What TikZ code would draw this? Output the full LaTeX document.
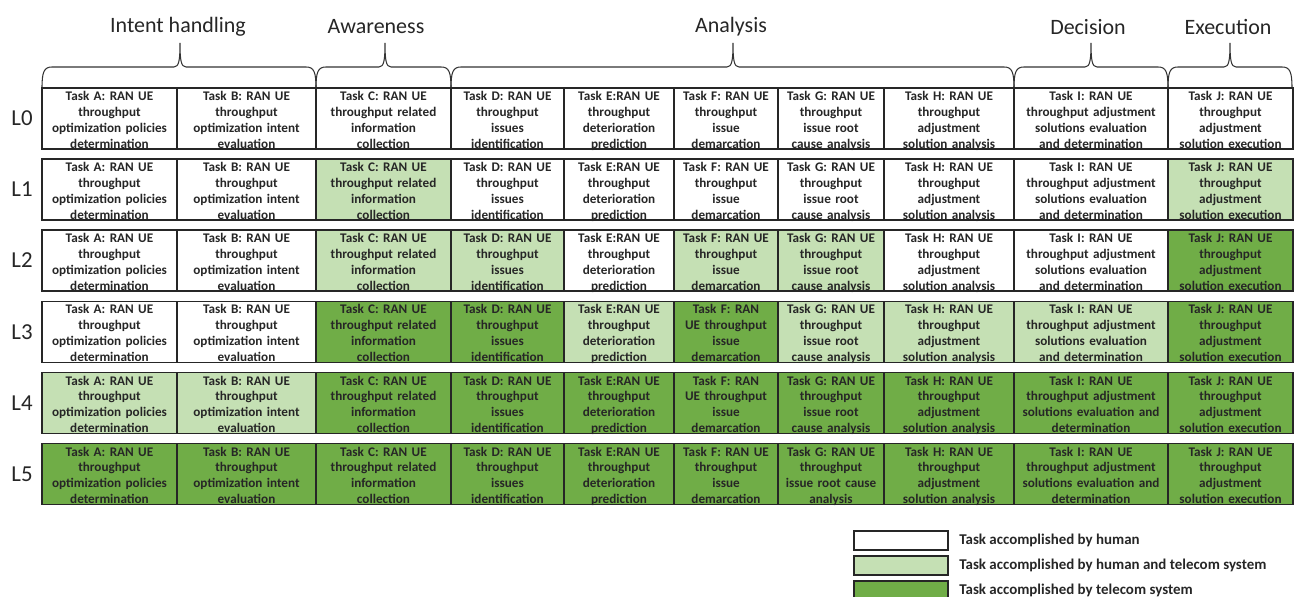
\documentclass[tikz,border=0pt]{standalone}
\usepackage{fontspec}
\setmainfont{Carlito}
\definecolor{lightgrn}{HTML}{C5E0B4}
\definecolor{darkgrn}{HTML}{70AD47}

\newcommand{\txtA}{Task A: RAN UE\\throughput\\optimization policies\\determination}
\newcommand{\txtB}{Task B: RAN UE\\throughput\\optimization intent\\evaluation}
\newcommand{\txtC}{Task C: RAN UE\\throughput related\\information\\collection}
\newcommand{\txtD}{Task D: RAN UE\\throughput\\issues\\identification}
\newcommand{\txtE}{Task E:RAN UE\\throughput\\deterioration\\prediction}
\newcommand{\txtF}{Task F: RAN UE\\throughput\\issue\\demarcation}
\newcommand{\txtG}{Task G: RAN UE\\throughput\\issue root\\cause analysis}
\newcommand{\txtH}{Task H: RAN UE\\throughput\\adjustment\\solution analysis}
\newcommand{\txtI}{Task I: RAN UE\\throughput adjustment\\solutions evaluation\\and determination}
\newcommand{\txtJ}{Task J: RAN UE\\throughput\\adjustment\\solution execution}

\begin{document}
\begin{tikzpicture}[x=0.02cm, y=-0.02cm,
    cell/.style = {draw=black!85, line width=0.6pt, inner sep=0pt, minimum height=1.22cm,
                   text height=0.25cm, text depth=0.97cm, align=center, text=black!85,
                   font=\bfseries\fontsize{7.5}{9.1}\selectfont},
    human/.style = {fill=white},
    both/.style = {fill=lightgrn},
    system/.style = {fill=darkgrn},
    colA/.style = {minimum width=2.70cm, text width=2.62cm},
    colB/.style = {minimum width=2.78cm, text width=2.70cm},
    colC/.style = {minimum width=2.70cm, text width=2.62cm},
    colD/.style = {minimum width=2.26cm, text width=2.18cm},
    colE/.style = {minimum width=2.20cm, text width=2.12cm},
    colF/.style = {minimum width=2.08cm, text width=2.00cm},
    colG/.style = {minimum width=2.12cm, text width=2.04cm},
    colH/.style = {minimum width=2.60cm, text width=2.52cm},
    colI/.style = {minimum width=3.08cm, text width=3.00cm},
    colJ/.style = {minimum width=2.50cm, text width=2.42cm},
    level/.style = {font=\fontsize{13}{15}\selectfont, text=black!85},
    phase/.style = {font=\fontsize{12.5}{15}\selectfont, text=black!85},
    brace/.style = {draw=black!80, line width=0.6pt},
    keybox/.style = {draw=black!85, line width=0.6pt, inner sep=0pt, minimum width=1.88cm, minimum height=0.38cm},
    keytext/.style = {anchor=west, inner sep=0pt, text=black!85, font=\bfseries\fontsize{8.5}{10}\selectfont}]

    \useasboundingbox (0,0) rectangle (1295,597);

    % phases
    \node[phase] (intent)   at (178,27)  {Intent handling};
    \node[phase] (aware)    at (376,27)  {Awareness};
    \node[phase] (analysis) at (731,27)  {Analysis};
    \node[phase] (decision) at (1088,27) {Decision};
    \node[phase] (exec)     at (1228,27) {Execution};

    % braces
    \draw[brace] (42,88) .. controls (42,72) and (44,67) .. (52,67) -- (174,67)
        .. controls (179,67) and (180,60) .. (180,43) .. controls (180,60) and (181,67) .. (186,67)
        -- (306,67) .. controls (314,67) and (316,72) .. (316,88);
    \draw[brace] (316,88) .. controls (316,72) and (318,67) .. (326,67) -- (379,67)
        .. controls (384,67) and (385,60) .. (385,43) .. controls (385,60) and (386,67) .. (391,67)
        -- (441,67) .. controls (449,67) and (451,72) .. (451,88);
    \draw[brace] (451,88) .. controls (451,72) and (453,67) .. (461,67) -- (727,67)
        .. controls (732,67) and (733,60) .. (733,43) .. controls (733,60) and (734,67) .. (739,67)
        -- (1004,67) .. controls (1012,67) and (1014,72) .. (1014,88);
    \draw[brace] (1014,88) .. controls (1014,72) and (1016,67) .. (1024,67) -- (1085,67)
        .. controls (1090,67) and (1091,60) .. (1091,43) .. controls (1091,60) and (1092,67) .. (1097,67)
        -- (1158,67) .. controls (1166,67) and (1168,72) .. (1168,88);
    \draw[brace] (1168,88) .. controls (1168,72) and (1170,67) .. (1178,67) -- (1224,67)
        .. controls (1229,67) and (1230,60) .. (1230,43) .. controls (1230,60) and (1231,67) .. (1236,67)
        -- (1282,67) .. controls (1290,67) and (1292,72) .. (1292,88);

    % L0
    \node[level] (l0) at (22,118.5) {L0};
    \node[cell,colA,human] (a0) at (109.5,118.5) {\txtA};
    \node[cell,colB,human] (b0) at (246.5,118.5) {\txtB};
    \node[cell,colC,human] (c0) at (383.5,118.5) {\txtC};
    \node[cell,colD,human] (d0) at (507.5,118.5) {\txtD};
    \node[cell,colE,human] (e0) at (619,118.5)   {\txtE};
    \node[cell,colF,human] (f0) at (726,118.5)   {\txtF};
    \node[cell,colG,human] (g0) at (831,118.5)   {\txtG};
    \node[cell,colH,human] (h0) at (949,118.5)   {\txtH};
    \node[cell,colI,human] (i0) at (1091,118.5)  {\txtI};
    \node[cell,colJ,human] (j0) at (1230.5,118.5) {\txtJ};

    % L1
    \node[level] (l1) at (22,189.5) {L1};
    \node[cell,colA,human] (a1) at (109.5,189.5) {\txtA};
    \node[cell,colB,human] (b1) at (246.5,189.5) {\txtB};
    \node[cell,colC,both]  (c1) at (383.5,189.5) {\txtC};
    \node[cell,colD,human] (d1) at (507.5,189.5) {\txtD};
    \node[cell,colE,human] (e1) at (619,189.5)   {\txtE};
    \node[cell,colF,human] (f1) at (726,189.5)   {\txtF};
    \node[cell,colG,human] (g1) at (831,189.5)   {\txtG};
    \node[cell,colH,human] (h1) at (949,189.5)   {\txtH};
    \node[cell,colI,human] (i1) at (1091,189.5)  {\txtI};
    \node[cell,colJ,both]  (j1) at (1230.5,189.5) {\txtJ};

    % L2
    \node[level] (l2) at (22,260.5) {L2};
    \node[cell,colA,human]  (a2) at (109.5,260.5) {\txtA};
    \node[cell,colB,human]  (b2) at (246.5,260.5) {\txtB};
    \node[cell,colC,both]   (c2) at (383.5,260.5) {\txtC};
    \node[cell,colD,both]   (d2) at (507.5,260.5) {\txtD};
    \node[cell,colE,human]  (e2) at (619,260.5)   {\txtE};
    \node[cell,colF,both]   (f2) at (726,260.5)   {\txtF};
    \node[cell,colG,both]   (g2) at (831,260.5)   {\txtG};
    \node[cell,colH,human]  (h2) at (949,260.5)   {\txtH};
    \node[cell,colI,human]  (i2) at (1091,260.5)  {\txtI};
    \node[cell,colJ,system] (j2) at (1230.5,260.5) {\txtJ};

    % L3
    \node[level] (l3) at (22,332) {L3};
    \node[cell,colA,human]  (a3) at (109.5,332) {\txtA};
    \node[cell,colB,human]  (b3) at (246.5,332) {\txtB};
    \node[cell,colC,system] (c3) at (383.5,332) {\txtC};
    \node[cell,colD,system] (d3) at (507.5,332) {\txtD};
    \node[cell,colE,both]   (e3) at (619,332)   {\txtE};
    \node[cell,colF,system] (f3) at (726,332)   {Task F: RAN\\UE throughput\\issue\\demarcation};
    \node[cell,colG,both]   (g3) at (831,332)   {\txtG};
    \node[cell,colH,both]   (h3) at (949,332)   {\txtH};
    \node[cell,colI,both]   (i3) at (1091,332)  {\txtI};
    \node[cell,colJ,system] (j3) at (1230.5,332) {\txtJ};

    % L4
    \node[level] (l4) at (22,403) {L4};
    \node[cell,colA,both]   (a4) at (109.5,403) {\txtA};
    \node[cell,colB,both]   (b4) at (246.5,403) {\txtB};
    \node[cell,colC,system] (c4) at (383.5,403) {\txtC};
    \node[cell,colD,system] (d4) at (507.5,403) {\txtD};
    \node[cell,colE,system] (e4) at (619,403)   {\txtE};
    \node[cell,colF,system] (f4) at (726,403)   {Task F: RAN\\UE throughput\\issue\\demarcation};
    \node[cell,colG,system] (g4) at (831,403)   {\txtG};
    \node[cell,colH,system] (h4) at (949,403)   {\txtH};
    \node[cell,colI,system] (i4) at (1091,403)  {Task I: RAN UE\\throughput adjustment\\solutions evaluation and\\determination};
    \node[cell,colJ,system] (j4) at (1230.5,403) {\txtJ};

    % L5
    \node[level] (l5) at (22,474) {L5};
    \node[cell,colA,system] (a5) at (109.5,474) {\txtA};
    \node[cell,colB,system] (b5) at (246.5,474) {\txtB};
    \node[cell,colC,system] (c5) at (383.5,474) {\txtC};
    \node[cell,colD,system] (d5) at (507.5,474) {\txtD};
    \node[cell,colE,system] (e5) at (619,474)   {\txtE};
    \node[cell,colF,system] (f5) at (726,474)   {\txtF};
    \node[cell,colG,system] (g5) at (831,474)   {Task G: RAN UE\\throughput\\issue root cause\\analysis};
    \node[cell,colH,system] (h5) at (949,474)   {\txtH};
    \node[cell,colI,system] (i5) at (1091,474)  {Task I: RAN UE\\throughput adjustment\\solutions evaluation and\\determination};
    \node[cell,colJ,system] (j5) at (1230.5,474) {\txtJ};

    % legend
    \node[keybox,human]  (key1) at (901,540.5) {};
    \node[keybox,both]   (key2) at (901,565.5) {};
    \node[keybox,system] (key3) at (901,590.5) {};
    \node[keytext] (keyt1) at (959,540.5) {Task accomplished by human};
    \node[keytext] (keyt2) at (959,565.5) {Task accomplished by human and telecom system};
    \node[keytext] (keyt3) at (959,590.5) {Task accomplished by telecom system};

\end{tikzpicture}
\end{document}
